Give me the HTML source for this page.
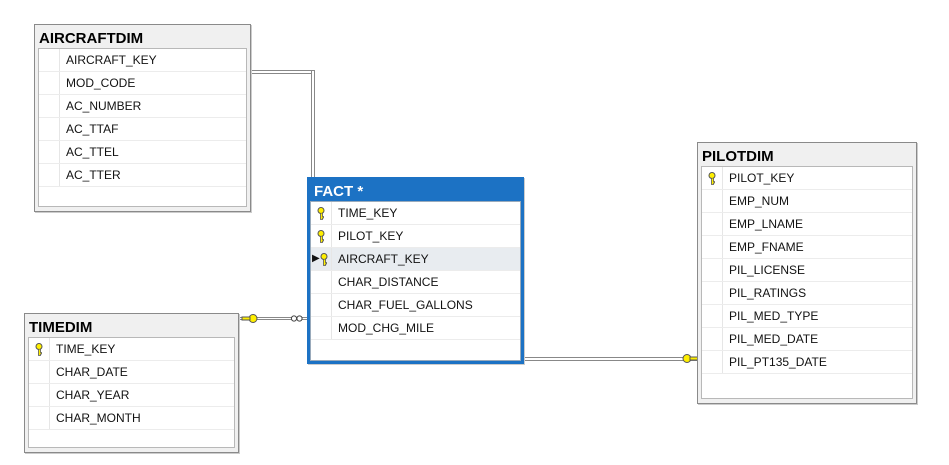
<!DOCTYPE html>
<html><head><meta charset="utf-8"><style>
body{margin:0;width:949px;height:465px;background:#fff;position:relative;overflow:hidden;font-family:"Liberation Sans",sans-serif}
.t{position:absolute;border:1px solid #8a8a8a;background:#f0f0f0;box-shadow:1px 1px 0 #ccc}
.t .h{height:23px;line-height:27px;padding-left:4px;font-weight:bold;font-size:15px;color:#000}
.t .b{position:absolute;left:3px;right:3px;top:23px;bottom:4px;background:#fff;border:1px solid #b8b8b8}
.r{height:22px;line-height:22px;border-bottom:1px solid #ececec;font-size:12px;color:#111;position:relative;padding-left:27px}
.r:before{content:"";position:absolute;left:0;top:0;width:20px;height:22px;border-right:1px solid #e6e6e6}
.k{position:absolute;left:6px;top:5px;width:8px;height:13px}
.f{border:3px solid #1c72c4;background:#1c72c4}
.f .h{color:#fff;height:21px;line-height:23px}
.f .b{top:21px;left:0;right:0;bottom:0;border:1px solid #9ab}
.sel{background:#e8ecf0}
.ln{position:absolute;background:#fff;border:1px solid #777}
</style></head><body>
<div class="ln" style="left:250px;top:70px;width:63px;height:2px;border-color:#888"></div>
<div class="ln" style="left:311px;top:70px;width:2px;height:108px;border-color:#888"></div>
<div class="ln" style="left:238px;top:317px;width:70px;height:1px;border-color:#888"></div>
<div class="ln" style="left:523px;top:357px;width:176px;height:2px;border-color:#888"></div>
<svg style="position:absolute;left:0;top:0" width="949" height="465">
<defs><g id="key"><circle cx="4" cy="3.5" r="3" fill="#ffef00" stroke="#555"/><path d="M3.5 6.5v6h2v-1.5h1v-1.5h-1v-3" fill="#ffef00" stroke="#555" stroke-width="0.8"/></g></defs>
<g fill="#ffef00" stroke="#555" stroke-width="1">
<circle cx="253" cy="318.5" r="4"/><path d="M242 317h8v3h-8z"/>
<circle cx="687" cy="358.5" r="4"/><path d="M690 357h8v3h-8z"/>
</g>
<g fill="#fff" stroke="#444" stroke-width="1"><circle cx="294" cy="318.5" r="2.6"/><circle cx="299.5" cy="318.5" r="2.6"/></g>
</svg>

<div class="t" style="left:34px;top:24px;width:215px;height:186px">
<div class="h">AIRCRAFTDIM</div><div class="b">
<div class="r">AIRCRAFT_KEY</div><div class="r">MOD_CODE</div><div class="r">AC_NUMBER</div><div class="r">AC_TTAF</div><div class="r">AC_TTEL</div><div class="r">AC_TTER</div></div></div>

<div class="t f" style="left:307px;top:177px;width:211px;height:181px">
<div class="h">FACT *</div><div class="b">
<div class="r"><svg class="k"><use href="#key"/></svg>TIME_KEY</div><div class="r"><svg class="k"><use href="#key"/></svg>PILOT_KEY</div><div class="r sel"><span style="position:absolute;left:1px;top:0;font-size:10px">&#9654;</span><svg class="k" style="left:9px"><use href="#key"/></svg>AIRCRAFT_KEY</div><div class="r">CHAR_DISTANCE</div><div class="r">CHAR_FUEL_GALLONS</div><div class="r">MOD_CHG_MILE</div></div></div>

<div class="t" style="left:24px;top:313px;width:213px;height:138px">
<div class="h">TIMEDIM</div><div class="b">
<div class="r"><svg class="k"><use href="#key"/></svg>TIME_KEY</div><div class="r">CHAR_DATE</div><div class="r">CHAR_YEAR</div><div class="r">CHAR_MONTH</div></div></div>

<div class="t" style="left:697px;top:142px;width:218px;height:260px">
<div class="h">PILOTDIM</div><div class="b">
<div class="r"><svg class="k"><use href="#key"/></svg>PILOT_KEY</div><div class="r">EMP_NUM</div><div class="r">EMP_LNAME</div><div class="r">EMP_FNAME</div><div class="r">PIL_LICENSE</div><div class="r">PIL_RATINGS</div><div class="r">PIL_MED_TYPE</div><div class="r">PIL_MED_DATE</div><div class="r">PIL_PT135_DATE</div></div></div>
</body></html>
